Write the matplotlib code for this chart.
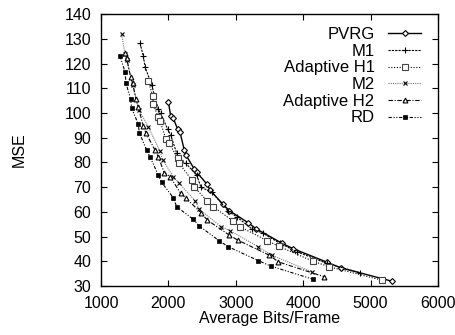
import matplotlib
matplotlib.use("Agg")
import matplotlib.pyplot as plt

plt.rcParams['font.family'] = ['Liberation Sans', 'DejaVu Sans']

# PVRG
pvrg_x = [1999, 2034, 2073, 2138, 2172, 2236, 2261, 2384, 2420, 2577, 2617, 2806,
          2904, 3185, 3300, 3681, 3844, 4358, 4556, 5313]
pvrg_y = [104.5, 98.8, 97.8, 93.4, 92.2, 85.0, 83.0, 77.3, 76.0, 71.1, 68.8, 63.2,
          60.5, 55.6, 53.2, 47.4, 45.2, 39.6, 37.4, 32.0]

# M1
m1_x = [1579, 1628, 1653, 1752, 1850, 1886, 1990, 2034, 2123, 2172, 2261, 2420,
        2484, 2642, 2889, 3013, 3236, 3408, 3656, 3904, 4349, 4843]
m1_y = [128.2, 123.0, 118.7, 111.3, 101.5, 99.8, 93.4, 91.1, 83.7, 81.0, 79.6, 74.9,
        69.9, 68.1, 60.3, 58.0, 53.2, 51.3, 47.3, 43.9, 39.2, 35.4]

# Adaptive H1
h1_x = [1702, 1767, 1776, 1850, 1875, 1964, 2013, 2138, 2162, 2346, 2380, 2577,
        2666, 2954, 3062, 3470, 3637, 4141, 4387, 5165]
h1_y = [112.9, 107.0, 103.6, 98.2, 96.7, 89.5, 87.7, 81.7, 79.6, 72.9, 70.2, 64.4,
        62.1, 56.4, 54.0, 48.3, 46.1, 40.1, 37.8, 32.4]

# M2
m2_x = [1307, 1356, 1381, 1470, 1564, 1702, 1875, 1915, 2073, 2162, 2395, 2459,
        2780, 2914, 3334, 3533, 4126]
m2_y = [131.8, 123.7, 121.4, 111.3, 101.2, 94.4, 84.6, 81.0, 74.3, 71.5, 64.5, 61.0,
        54.0, 52.4, 45.9, 42.5, 35.8]

# Adaptive H2
h2_x = [1356, 1381, 1441, 1470, 1519, 1553, 1628, 1668, 1801, 1850, 1939, 2024,
        2182, 2261, 2484, 2577, 2904, 3028, 3497, 3631, 4309]
h2_y = [124.1, 122.1, 114.4, 112.0, 105.5, 102.3, 94.7, 91.8, 85.0, 82.3, 75.8, 74.3,
        67.5, 65.5, 59.7, 56.7, 50.6, 48.6, 42.5, 39.8, 33.8]

# RD
rd_x = [1282, 1356, 1371, 1441, 1455, 1553, 1568, 1678, 1727, 1850, 1901, 2073,
        2123, 2369, 2458, 2755, 2889, 3334, 3518, 4141]
rd_y = [123.0, 116.7, 112.0, 105.5, 101.9, 95.5, 92.0, 85.0, 82.3, 74.9, 71.9, 65.7,
        62.1, 57.0, 54.3, 48.3, 45.9, 40.3, 38.1, 32.8]

fig = plt.figure(figsize=(4.56, 3.35), dpi=100)
ax = fig.add_axes([0.2215, 0.146, 0.739, 0.812])

ax.plot(pvrg_x, pvrg_y, color='black', linestyle='-', linewidth=1.0,
        marker='D', markersize=3, markerfacecolor='white', markeredgewidth=0.8, label='PVRG')
ax.plot(m1_x, m1_y, color='black', linestyle=(0, (2, 1)), linewidth=0.8,
        marker='+', markersize=4, markeredgewidth=0.8, label='M1')
ax.plot(h1_x, h1_y, color='black', linestyle=(0, (1, 1.5)), linewidth=0.8,
        marker='s', markersize=4, markerfacecolor='white', markeredgecolor='#444444',
        markeredgewidth=0.8, label='Adaptive H1')
ax.plot(m2_x, m2_y, color='#777777', linestyle=(0, (1, 1)), linewidth=0.8,
        marker='x', markersize=3.5, markeredgecolor='black', markeredgewidth=0.8, label='M2')
ax.plot(h2_x, h2_y, color='black', linestyle=(0, (4, 1.5, 1, 1.5)), linewidth=0.8,
        marker='^', markersize=3.5, markerfacecolor='white', markeredgewidth=0.8,
        label='Adaptive H2')
ax.plot(rd_x, rd_y, color='black', linestyle=(0, (3, 1.5, 1, 1.5, 1, 1.5)), linewidth=0.8,
        marker='s', markersize=3, markerfacecolor='black', markeredgewidth=0.5, label='RD')

ax.set_xlim(1000, 6000)
ax.set_ylim(30, 140)
ax.set_xticks([1000, 2000, 3000, 4000, 5000, 6000])
ax.set_yticks(range(30, 141, 10))
ax.tick_params(direction='in', top=True, right=True, length=4, width=0.8,
               labelsize=11.5)
ax.tick_params(axis='x', pad=7)
ax.tick_params(axis='y', pad=7)
for s in ax.spines.values():
    s.set_linewidth(1.0)

ax.set_xlabel("Average Bits/Frame", fontsize=11.5, labelpad=0)
ax.set_ylabel("MSE", fontsize=11.5, labelpad=27)

ax.legend(loc='upper right', markerfirst=False, frameon=False, fontsize=12,
          handlelength=2.0, handletextpad=0.8, labelspacing=0.1,
          borderaxespad=0.3, bbox_to_anchor=(0.985, 0.995))
leg = ax.get_legend()
for t in leg.get_texts():
    t.set_ha('right')
leg._legend_box.align = "right"

fig.savefig("out.png", dpi=100)
